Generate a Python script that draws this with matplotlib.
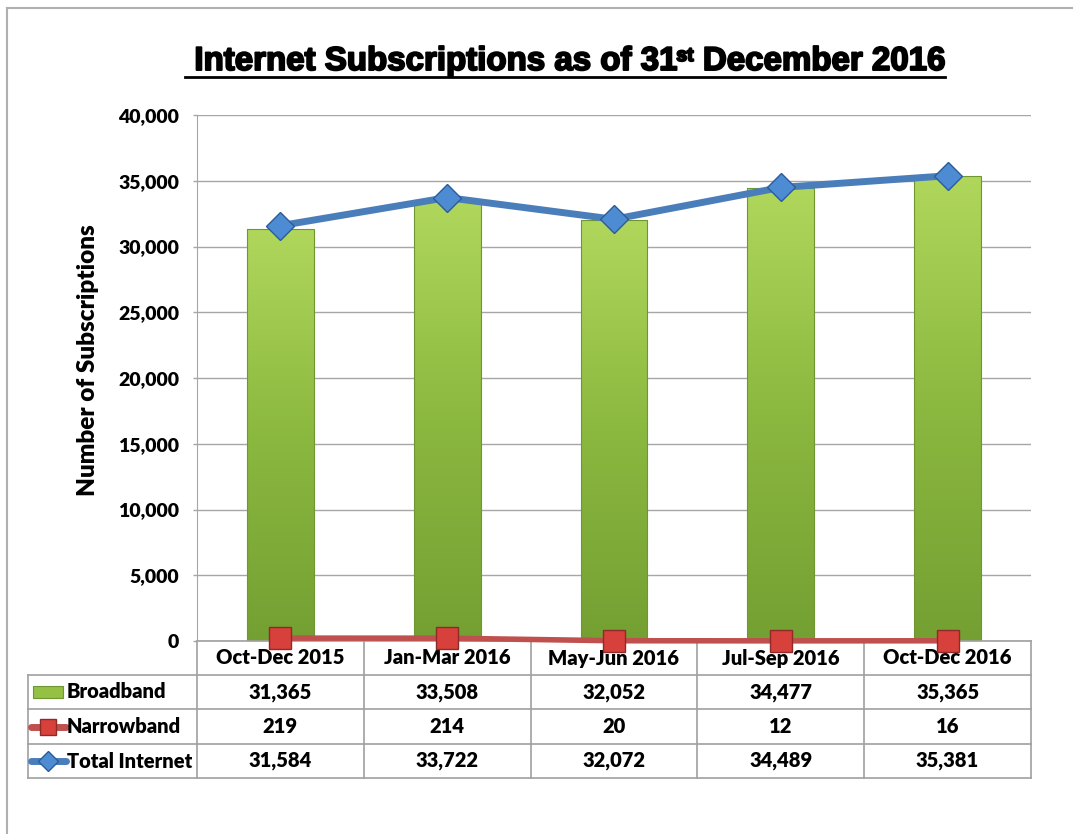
import matplotlib
matplotlib.use('Agg')
import matplotlib.pyplot as plt
import matplotlib.patheffects as pe
import matplotlib.transforms as mtransforms
import numpy as np
from matplotlib.lines import Line2D
from matplotlib.patches import Rectangle
from matplotlib.colors import LinearSegmentedColormap

# Data
categories = ['Oct-Dec 2015', 'Jan-Mar 2016', 'May-Jun 2016', 'Jul-Sep 2016', 'Oct-Dec 2016']
broadband = [31365, 33508, 32052, 34477, 35365]
narrowband = [219, 214, 20, 12, 16]
total = [31584, 33722, 32072, 34489, 35381]
series_names = ['Broadband', 'Narrowband', 'Total Internet']

W, H = 1073, 834
fig = plt.figure(figsize=(W / 100, H / 100), dpi=100)
plt.rcParams['font.family'] = ['Lato', 'DejaVu Sans']
FW = 'heavy'

# plot area in pixels: x 197..1031, y 115..641
ax = fig.add_axes([197 / W, 1 - 641 / H, (1031 - 197) / W, (641 - 115) / H])
x = np.arange(len(categories))

green = LinearSegmentedColormap.from_list('g', ['#74a033', '#8bb83f', '#b0d75c'])
grad = np.linspace(0, 1, 256).reshape(-1, 1)
bars = ax.bar(x, broadband, width=0.4, color='none', edgecolor='#6f9630', linewidth=0.8, zorder=2)
for b in bars:
    x0, y0 = b.get_x(), b.get_y()
    im = ax.imshow(grad, cmap=green, origin='lower', aspect='auto',
                   extent=(x0, x0 + b.get_width(), y0, y0 + b.get_height()), zorder=1.9)
    im.set_clip_path(b)

ax.plot(x, narrowband, color='#c0504d', lw=4, marker='s', ms=16,
        mfc='#d8403b', mec='#8e2a27', mew=1, zorder=4, clip_on=False)
ax.plot(x, total, color='#4a7ebb', lw=5, marker='D', ms=14,
        mfc='#4d8bd3', mec='#2b5c99', mew=1, zorder=5, clip_on=False)

ax.set_xlim(-0.5, len(categories) - 0.5)
ax.set_ylim(0, 40000)
ax.set_yticks(np.arange(0, 40001, 5000))
ax.set_yticklabels([f'{v:,}' for v in range(0, 40001, 5000)], fontsize=14, fontweight=FW)
ax.tick_params(axis='y', length=3, width=1, color='#a6a6a6', pad=10)
ax.set_xticks([])
ax.grid(axis='y', color='#a6a6a6', lw=1, zorder=0)
ax.set_axisbelow(True)
for s in ['top', 'right', 'bottom']:
    ax.spines[s].set_visible(False)
ax.spines['left'].set_color('#a6a6a6')

# data table under the axes
tr = mtransforms.blended_transform_factory(ax.transData, ax.transAxes)
ah = 641 - 115
rows_y = [0, -34 / ah, -68 / ah, -103 / ah, -137 / ah]
cw = (1031 - 197) / len(categories)
left = -0.5 + (28 - 197) / cw
right = len(categories) - 0.5
lc = '#a0a0a0'
for i, yy in enumerate(rows_y):
    xa = -0.5 if i == 0 else left
    ax.add_line(Line2D([xa, right], [yy, yy], transform=tr, color=lc, lw=1.2, clip_on=False))
for i in range(len(categories) + 1):
    ax.add_line(Line2D([i - 0.5, i - 0.5], [rows_y[0], rows_y[-1]], transform=tr,
                       color=lc, lw=1.2, clip_on=False))
ax.add_line(Line2D([left, left], [rows_y[1], rows_y[-1]], transform=tr, color=lc, lw=1.2, clip_on=False))

for i, c in enumerate(categories):
    ax.text(i, (rows_y[0] + rows_y[1]) / 2, c, transform=tr, ha='center', va='center',
            fontsize=14.5, fontweight=FW)
for r, vals in enumerate([broadband, narrowband, total]):
    yc = (rows_y[r + 1] + rows_y[r + 2]) / 2
    for i, v in enumerate(vals):
        ax.text(i, yc, f'{v:,}', transform=tr, ha='center', va='center',
                fontsize=14.5, fontweight=FW)
    ax.text(-0.5 + (67 - 197) / cw, yc, series_names[r], transform=tr, ha='left', va='center',
            fontsize=14.5, fontweight=FW)

# legend keys
px = lambda p: -0.5 + (p - 197) / cw
yk = (rows_y[1] + rows_y[2]) / 2
key = Rectangle((px(33), yk - 6 / ah), px(63) - px(33), 12 / ah, transform=tr,
                facecolor='#94c043', edgecolor='#6f9630', lw=0.8, clip_on=False)
ax.add_patch(key)
yk = (rows_y[2] + rows_y[3]) / 2
ax.add_line(Line2D([px(31), px(66)], [yk, yk], transform=tr, color='#c0504d', lw=5,
                   solid_capstyle='round', clip_on=False))
ax.add_line(Line2D([px(48)], [yk], transform=tr, marker='s', ms=11, mfc='#d8403b',
                   mec='#8e2a27', clip_on=False))
yk = (rows_y[3] + rows_y[4]) / 2
ax.add_line(Line2D([px(31), px(66)], [yk, yk], transform=tr, color='#4a7ebb', lw=5,
                   solid_capstyle='round', clip_on=False))
ax.add_line(Line2D([px(48)], [yk], transform=tr, marker='D', ms=10, mfc='#4d8bd3',
                   mec='#2b5c99', clip_on=False))

# y label
fig.text(88 / W, 1 - 360 / H, 'Number of Subscriptions', rotation=90, ha='center', va='center',
         fontsize=17.5, fontweight=FW)

# title with superscript and underline
renderer = fig.canvas.get_renderer()
tfont = dict(family=['Liberation Sans', 'DejaVu Sans'], fontweight='bold', color='black',
             path_effects=[pe.withStroke(linewidth=1.4, foreground='black')])
base = 1 - 70 / H
parts = [(' Internet Subscriptions as of 31', 23.8, 0), ('st', 14, 9), (' December 2016', 23.8, 0)]
texts = []
for s, fs, dy in parts:
    t = fig.text(0, base + dy / H, s, fontsize=fs, va='baseline', ha='left', **tfont)
    texts.append(t)
widths = [t.get_window_extent(renderer).width for t in texts]
start = 565 - sum(widths) / 2
xcur = start
for t, w in zip(texts, widths):
    t.set_x(xcur / W)
    xcur += w
fig.add_artist(Line2D([start / W, xcur / W], [1 - 77 / H, 1 - 77 / H], color='black', lw=2))

# outer frame
fig.add_artist(Line2D([7 / W, 7 / W], [0, 1 - 8 / H], color='#b0b0b0', lw=1.5))
fig.add_artist(Line2D([7 / W, 1], [1 - 8 / H, 1 - 8 / H], color='#b0b0b0', lw=1.5))

fig.savefig('out.png', dpi=100)
